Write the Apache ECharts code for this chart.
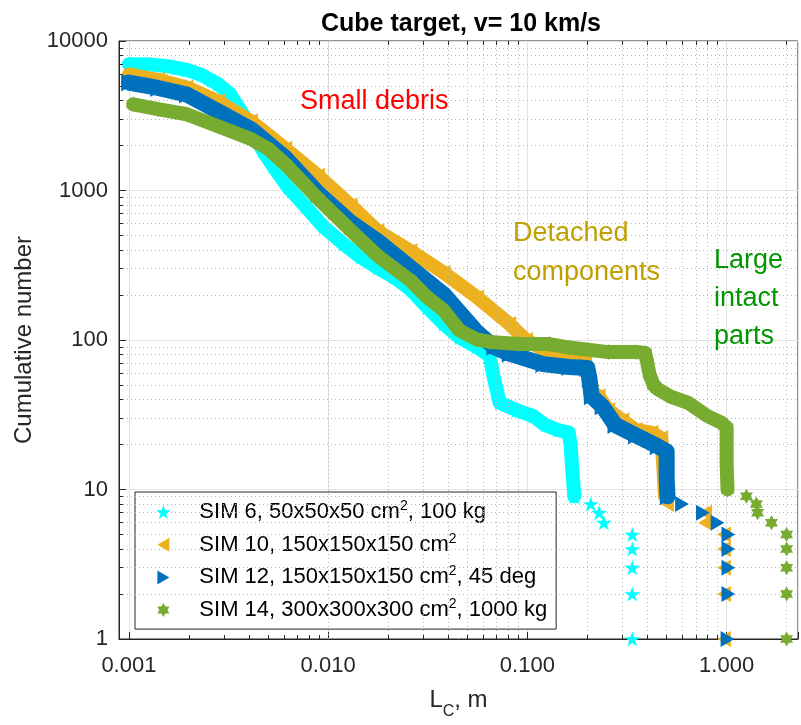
<!DOCTYPE html>
<html><head><meta charset="utf-8">
<script src="https://cdn.jsdelivr.net/npm/echarts@6/dist/echarts.min.js"></script>
<style>html,body{margin:0;padding:0;background:#fff}#c{width:801px;height:725px}</style>
</head><body><div id="c"></div>
<script>
// ---------- data ----------
const seriesNames = ['SIM 6', 'SIM 10', 'SIM 12', 'SIM 14'];
const legendLabels = [
  '{n|SIM 6, 50x50x50 cm}{sup|2}{n|, 100 kg}',
  '{n|SIM 10, 150x150x150 cm}{sup|2}',
  '{n|SIM 12, 150x150x150 cm}{sup|2}{n|, 45 deg}',
  '{n|SIM 14, 300x300x300 cm}{sup|2}{n|, 1000 kg}'
];
const xTickLabels = ['0.001', '0.010', '0.100', '1.000'];
const yTickLabels = ['1', '10', '100', '1000', '10000'];

// dense part of each cumulative distribution [Lc (m), N]
const sim6Band = [[0.001,7000],[0.0013,6950],[0.0016,6750],[0.00195,6400],[0.0023,5950],[0.0028,5150],[0.0032,4450],[0.0037,3300],[0.0042,2400],[0.0047,1850],[0.0053,1450],[0.0063,1050],[0.0077,780],[0.0095,570],[0.0119,440],[0.0145,360],[0.0177,304],[0.0215,262],[0.0259,218],[0.0314,166],[0.038,128],[0.0456,104],[0.0556,90],[0.0648,78],[0.066,68],[0.068,55],[0.0705,45],[0.0726,38],[0.088,34],[0.107,31],[0.123,27],[0.142,25],[0.161,24],[0.165,20],[0.167,15],[0.17,11],[0.172,9]];
const sim10Band = [[0.001,5960],[0.0014,5500],[0.00195,4890],[0.0028,3945],[0.0041,2910],[0.0061,1900],[0.0089,1257],[0.013,795],[0.0177,535],[0.0259,394],[0.038,282],[0.056,193],[0.0812,128],[0.0985,100],[0.128,83],[0.161,74],[0.195,72],[0.2,62],[0.204,50],[0.21,45],[0.228,42],[0.255,34],[0.3,29],[0.35,25],[0.42,24],[0.47,22],[0.48,15],[0.49,9]];
const sim12Band = [[0.001,5270],[0.0014,4850],[0.00195,4390],[0.0028,3390],[0.0041,2570],[0.0061,1650],[0.0089,960],[0.013,610],[0.0177,459],[0.0259,304],[0.0382,201],[0.0557,113],[0.068,90],[0.0813,81],[0.12,69],[0.162,66],[0.2,65],[0.205,55],[0.21,42],[0.238,36],[0.276,27],[0.35,23],[0.45,19.5],[0.5,18],[0.5,12],[0.505,9]];
const sim14Band = [[0.00105,3770],[0.0014,3500],[0.00195,3236],[0.0028,2690],[0.0041,2210],[0.005,1900],[0.0061,1500],[0.0089,880],[0.013,540],[0.0177,366],[0.0259,250],[0.0314,193],[0.038,158],[0.0456,116],[0.0556,101],[0.0648,97],[0.091,94],[0.129,94],[0.162,89],[0.255,83],[0.35,83],[0.39,82],[0.4,70],[0.41,59],[0.43,50],[0.45,47],[0.52,42],[0.64,38],[0.8,31],[0.94,28],[1.0,26],[1.0,15],[1.01,10]];
// sparse discrete tails
const sim6Tail = [[0.208,8],[0.229,7],[0.242,6],[0.336,5],[0.336,4],[0.336,3],[0.336,2],[0.336,1]];
const sim10Tail = [[0.503,8],[0.78,7],[0.778,6],[0.97,5],[0.97,4],[0.97,3],[0.97,2],[0.97,1]];
const sim12Tail = [[0.597,8],[0.76,7],[0.90,6],[1.02,5],[1.02,4],[1.02,3],[1.02,2],[1.01,1]];
const sim14Tail = [[1.257,9],[1.41,8],[1.43,7],[1.68,6],[2,5],[2,4],[2,3],[2,2],[2,1]];

// ---------- styling ----------
const colors = ['#00FFFF', '#EDB120', '#0072BD', '#77AC30'];
const PENTA = 'path://M0,-10L2.245,-3.09L9.511,-3.09L3.633,1.18L5.878,8.09L0,3.82L-5.878,8.09L-3.633,1.18L-9.511,-3.09L-2.245,-3.09Z';
const HEXA = 'path://M0,-10L2.887,-5L8.66,-5L5.774,0L8.66,5L2.887,5L0,10L-2.887,5L-8.66,5L-5.774,0L-8.66,-5L-2.887,-5Z';
const TRI_L = 'path://M0,7L12,0L12,14Z';
const TRI_R = 'path://M12,7L0,0L0,14Z';
const symbols = [PENTA, TRI_L, TRI_R, HEXA];
const bandWidths = [14, 14, 16, 14];
const tailSizes = [16, 16, 16, 15];
const bands = [sim6Band, sim10Band, sim12Band, sim14Band];
const tails = [sim6Tail, sim10Tail, sim12Tail, sim14Tail];
const FONT = 'Liberation Sans, Arial, Helvetica, sans-serif';

const XMIN = Math.pow(10, -3 - 10 / 201), XMAX = Math.pow(10, -3 + 675 / 201);
const YMIN = 1, YMAX = 10000;

// minor grid / minor ticks (axis decoration)
const minorX = [], minorY = [];
for (let d = -3; d <= 0; d++) for (let m = 2; m <= 9; m++) { const v = m * Math.pow(10, d); if (v < XMAX) minorX.push(v); }
for (let d = 0; d <= 3; d++) for (let m = 2; m <= 9; m++) minorY.push(m * Math.pow(10, d));
const tyf = Math.pow(10, 4 / 151), txf = Math.pow(10, 4 / 201);
const gridLines = minorX.map(v => ({ xAxis: v })).concat(minorY.map(v => ({ yAxis: v })));
const tickLines = [];
minorX.forEach(v => { tickLines.push([{ coord: [v, YMIN] }, { coord: [v, YMIN * tyf] }]); tickLines.push([{ coord: [v, YMAX] }, { coord: [v, YMAX / tyf] }]); });
minorY.forEach(v => { tickLines.push([{ coord: [XMIN, v] }, { coord: [XMIN * txf, v] }]); });

const series = [
  { type: 'line', name: '_grid', data: [], z: 1, silent: true,
    markLine: { silent: true, animation: false, symbol: ['none', 'none'], label: { show: false },
      lineStyle: { type: [1, 3], color: '#b8b8b8', width: 1 }, data: gridLines } },
  { type: 'line', name: '_ticks', data: [], z: 6, silent: true,
    markLine: { silent: true, animation: false, symbol: ['none', 'none'], label: { show: false },
      lineStyle: { type: 'solid', color: '#262626', width: 1 }, data: tickLines } }
];
bands.forEach((b, i) => {
  series.push({ type: 'line', name: seriesNames[i], data: b, z: 3 + i, color: colors[i],
    showSymbol: true, showAllSymbol: true, symbol: symbols[i], symbolSize: bandWidths[i] + 2, symbolKeepAspect: true,
    itemStyle: { color: colors[i] },
    lineStyle: { width: bandWidths[i], color: colors[i], cap: 'round', join: 'round' }, silent: true });
});
tails.forEach((t, i) => {
  series.push({ type: 'scatter', name: seriesNames[i], data: t, z: 3 + i, color: colors[i],
    symbol: symbols[i], symbolSize: tailSizes[i], symbolKeepAspect: true, itemStyle: { color: colors[i], opacity: 1 }, silent: true });
});

const chart = echarts.init(document.getElementById('c'), null, { renderer: 'canvas' });
chart.setOption({
  animation: false,
  backgroundColor: '#fff',
  grid: { left: 119, right: -4, top: 41, bottom: 80, show: true, borderColor: '#262626', borderWidth: 1, backgroundColor: 'transparent' },
  xAxis: {
    type: 'log', logBase: 10, min: XMIN, max: XMAX,
    name: '{n|L}{sub|C}{n|, m}', nameLocation: 'middle', nameGap: 47,
    nameTextStyle: { rich: { n: { fontFamily: FONT, fontSize: 24, color: '#262626', lineHeight: 28 }, sub: { fontFamily: FONT, fontSize: 16, color: '#262626', verticalAlign: 'bottom', lineHeight: 16, padding: [0, 0, -6, 0] } } },
    axisLine: { show: true, lineStyle: { color: '#262626', width: 1 } },
    axisTick: { show: true, inside: true, length: 7, lineStyle: { color: '#262626' } },
    axisLabel: { fontFamily: FONT, fontSize: 22, color: '#262626', margin: 16,
      formatter: v => { const l = Math.log10(v), k = Math.round(l); return Math.abs(l - k) < 1e-6 ? (xTickLabels[k + 3] || '') : ''; } },
    splitLine: { show: true, lineStyle: { color: '#e2e2e2', width: 1 } },
    minorTick: { show: false }, minorSplitLine: { show: false }
  },
  yAxis: {
    type: 'log', logBase: 10, min: YMIN, max: YMAX,
    name: 'Cumulative number', nameLocation: 'middle', nameGap: 72, nameRotate: 90,
    nameTextStyle: { fontFamily: FONT, fontSize: 24, color: '#262626' },
    axisLine: { show: true, lineStyle: { color: '#262626', width: 1 } },
    axisTick: { show: true, inside: true, length: 7, lineStyle: { color: '#262626' } },
    axisLabel: { fontFamily: FONT, fontSize: 22, color: '#262626', margin: 11,
      formatter: v => { const l = Math.log10(v), k = Math.round(l); return Math.abs(l - k) < 1e-6 ? (yTickLabels[k] || '') : ''; } },
    splitLine: { show: true, lineStyle: { color: '#e2e2e2', width: 1 } },
    minorTick: { show: false }, minorSplitLine: { show: false }
  },
  legend: {
    orient: 'vertical', left: 135, top: 492,
    padding: [7, 9, 6, 21], itemGap: 6.7, itemWidth: 28, itemHeight: 14,
    borderColor: '#262626', borderWidth: 1, backgroundColor: '#ffffff', borderRadius: 0,
    symbolKeepAspect: true, selectedMode: false,
    data: seriesNames.map((n, i) => ({ name: n, icon: symbols[i] })),
    formatter: name => legendLabels[seriesNames.indexOf(name)],
    textStyle: { padding: [0, 0, 0, 17], rich: {
      n: { fontFamily: FONT, fontSize: 22, color: '#000', lineHeight: 26 },
      sup: { fontFamily: FONT, fontSize: 14, color: '#000', lineHeight: 26, verticalAlign: 'top', padding: [0, 0, 12, 0] } } }
  },
  graphic: [
    { type: 'text', x: 461, y: 24, style: { text: 'Cube target, v= 10 km/s', font: 'bold 25px ' + FONT, fill: '#000', align: 'center', verticalAlign: 'middle' } },
    { type: 'text', x: 300, y: 102, z: 20, style: { text: 'Small debris', font: '27px ' + FONT, fill: '#FF0000', align: 'left', verticalAlign: 'middle' } },
    { type: 'text', x: 513, y: 233.5, z: 20, style: { text: 'Detached', font: '27px ' + FONT, fill: '#BFA000', align: 'left', verticalAlign: 'middle' } },
    { type: 'text', x: 513, y: 272.5, z: 20, style: { text: 'components', font: '27px ' + FONT, fill: '#BFA000', align: 'left', verticalAlign: 'middle' } },
    { type: 'text', x: 714, y: 261, z: 20, style: { text: 'Large', font: '27px ' + FONT, fill: '#009600', align: 'left', verticalAlign: 'middle' } },
    { type: 'text', x: 714, y: 299, z: 20, style: { text: 'intact', font: '27px ' + FONT, fill: '#009600', align: 'left', verticalAlign: 'middle' } },
    { type: 'text', x: 714, y: 337, z: 20, style: { text: 'parts', font: '27px ' + FONT, fill: '#009600', align: 'left', verticalAlign: 'middle' } }
  ],
  series: series
});
</script></body></html>
